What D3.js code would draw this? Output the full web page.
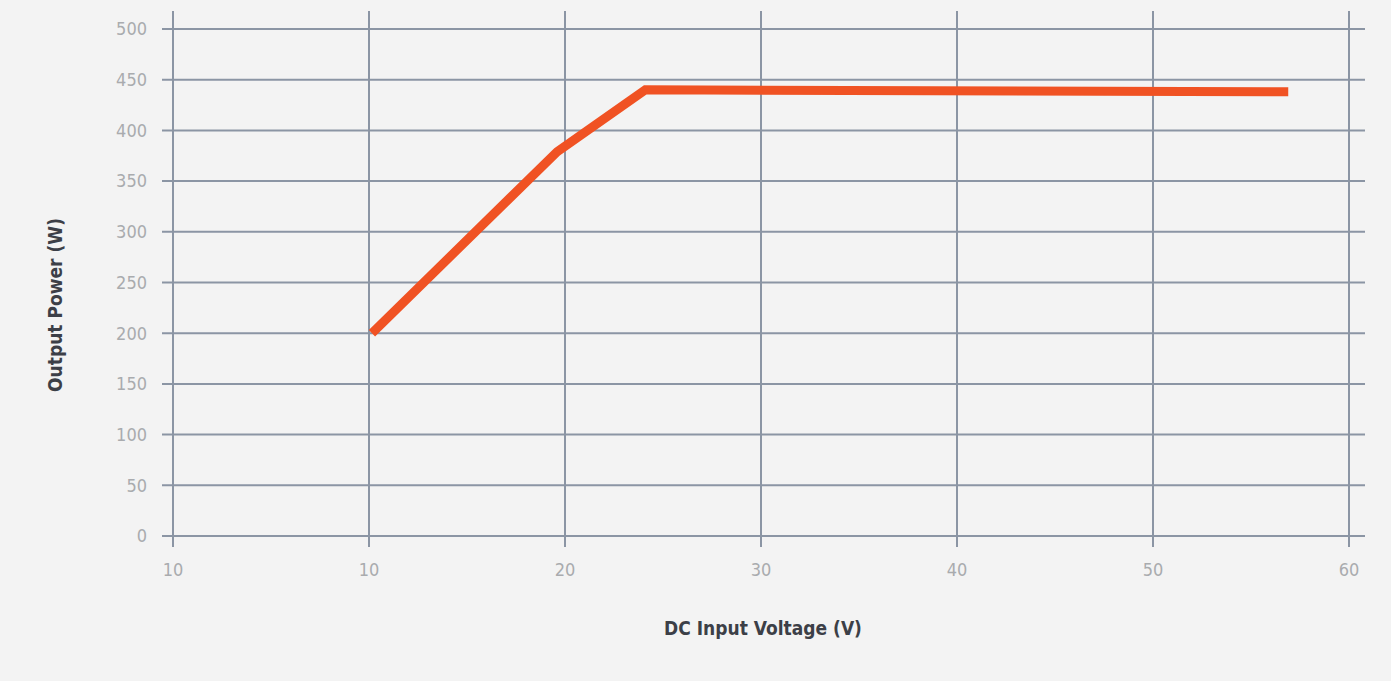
<!DOCTYPE html>
<html><head><meta charset="utf-8">
<script src="https://cdn.jsdelivr.net/npm/d3@7"></script>
<style>
html,body{margin:0;padding:0;background:#f3f3f3;}
svg{display:block;}
</style></head>
<body>
<svg id="chart" width="1391" height="681"></svg>
<script>
const voltage = [10.15, 19.6, 24.1, 56.9];
const power = [200, 379, 440, 438];
const xTickValues = [0, 10, 20, 30, 40, 50, 60];
const xTickLabels = ["10", "10", "20", "30", "40", "50", "60"];
const yTickValues = [0, 50, 100, 150, 200, 250, 300, 350, 400, 450, 500];
const xTitle = "DC Input Voltage (V)";
const yTitle = "Output Power (W)";

const svg = d3.select("#chart");
const W = 1391, H = 681;
const x = d3.scaleLinear().domain([0, 60]).range([173, 1349]);
const y = d3.scaleLinear().domain([0, 500]).range([536, 29]);
const gridColor = "#8b95a4";
const font = "'Liberation Sans Narrow','DejaVu Sans Condensed',sans-serif";

svg.append("rect").attr("width", W).attr("height", H).attr("fill", "#f3f3f3");

// horizontal grid
svg.append("g").selectAll("line").data(yTickValues).join("line")
  .attr("x1", x(0) - 11).attr("x2", x(60) + 16)
  .attr("y1", d => y(d)).attr("y2", d => y(d))
  .attr("stroke", gridColor).attr("stroke-width", 2);
// vertical grid
svg.append("g").selectAll("line").data(xTickValues).join("line")
  .attr("x1", d => x(d)).attr("x2", d => x(d))
  .attr("y1", y(0) + 11).attr("y2", y(500) - 18)
  .attr("stroke", gridColor).attr("stroke-width", 2);

// y labels
svg.append("g").selectAll("text").data(yTickValues).join("text")
  .attr("x", 147).attr("y", d => y(d)).attr("dy", "0.35em")
  .attr("text-anchor", "end").attr("fill", "#a9abae")
  .attr("font-family", font).attr("font-size", 18).text(d => d);
// x labels
svg.append("g").selectAll("text").data(xTickValues).join("text")
  .attr("x", d => x(d)).attr("y", 570).attr("dy", "0.35em")
  .attr("text-anchor", "middle").attr("fill", "#a9abae")
  .attr("font-family", font).attr("font-size", 18).text((d, i) => xTickLabels[i]);

// titles
svg.append("text").attr("x", 763).attr("y", 628).attr("dy", "0.35em")
  .attr("text-anchor", "middle").attr("fill", "#3c3f47")
  .attr("font-family", font).attr("font-weight", "bold").attr("font-size", 19)
  .text(xTitle);
svg.append("text").attr("transform", "translate(55,305) rotate(-90)").attr("dy", "0.35em")
  .attr("text-anchor", "middle").attr("fill", "#3c3f47")
  .attr("font-family", font).attr("font-weight", "bold").attr("font-size", 19)
  .text(yTitle);

// line
const pts = voltage.map((v, i) => [v, power[i]]);
svg.append("path").datum(pts)
  .attr("d", d3.line().x(d => x(d[0])).y(d => y(d[1])))
  .attr("fill", "none").attr("stroke", "#f05223").attr("stroke-width", 9)
  .attr("stroke-linejoin", "miter").attr("stroke-linecap", "butt");
</script>
</body></html>
